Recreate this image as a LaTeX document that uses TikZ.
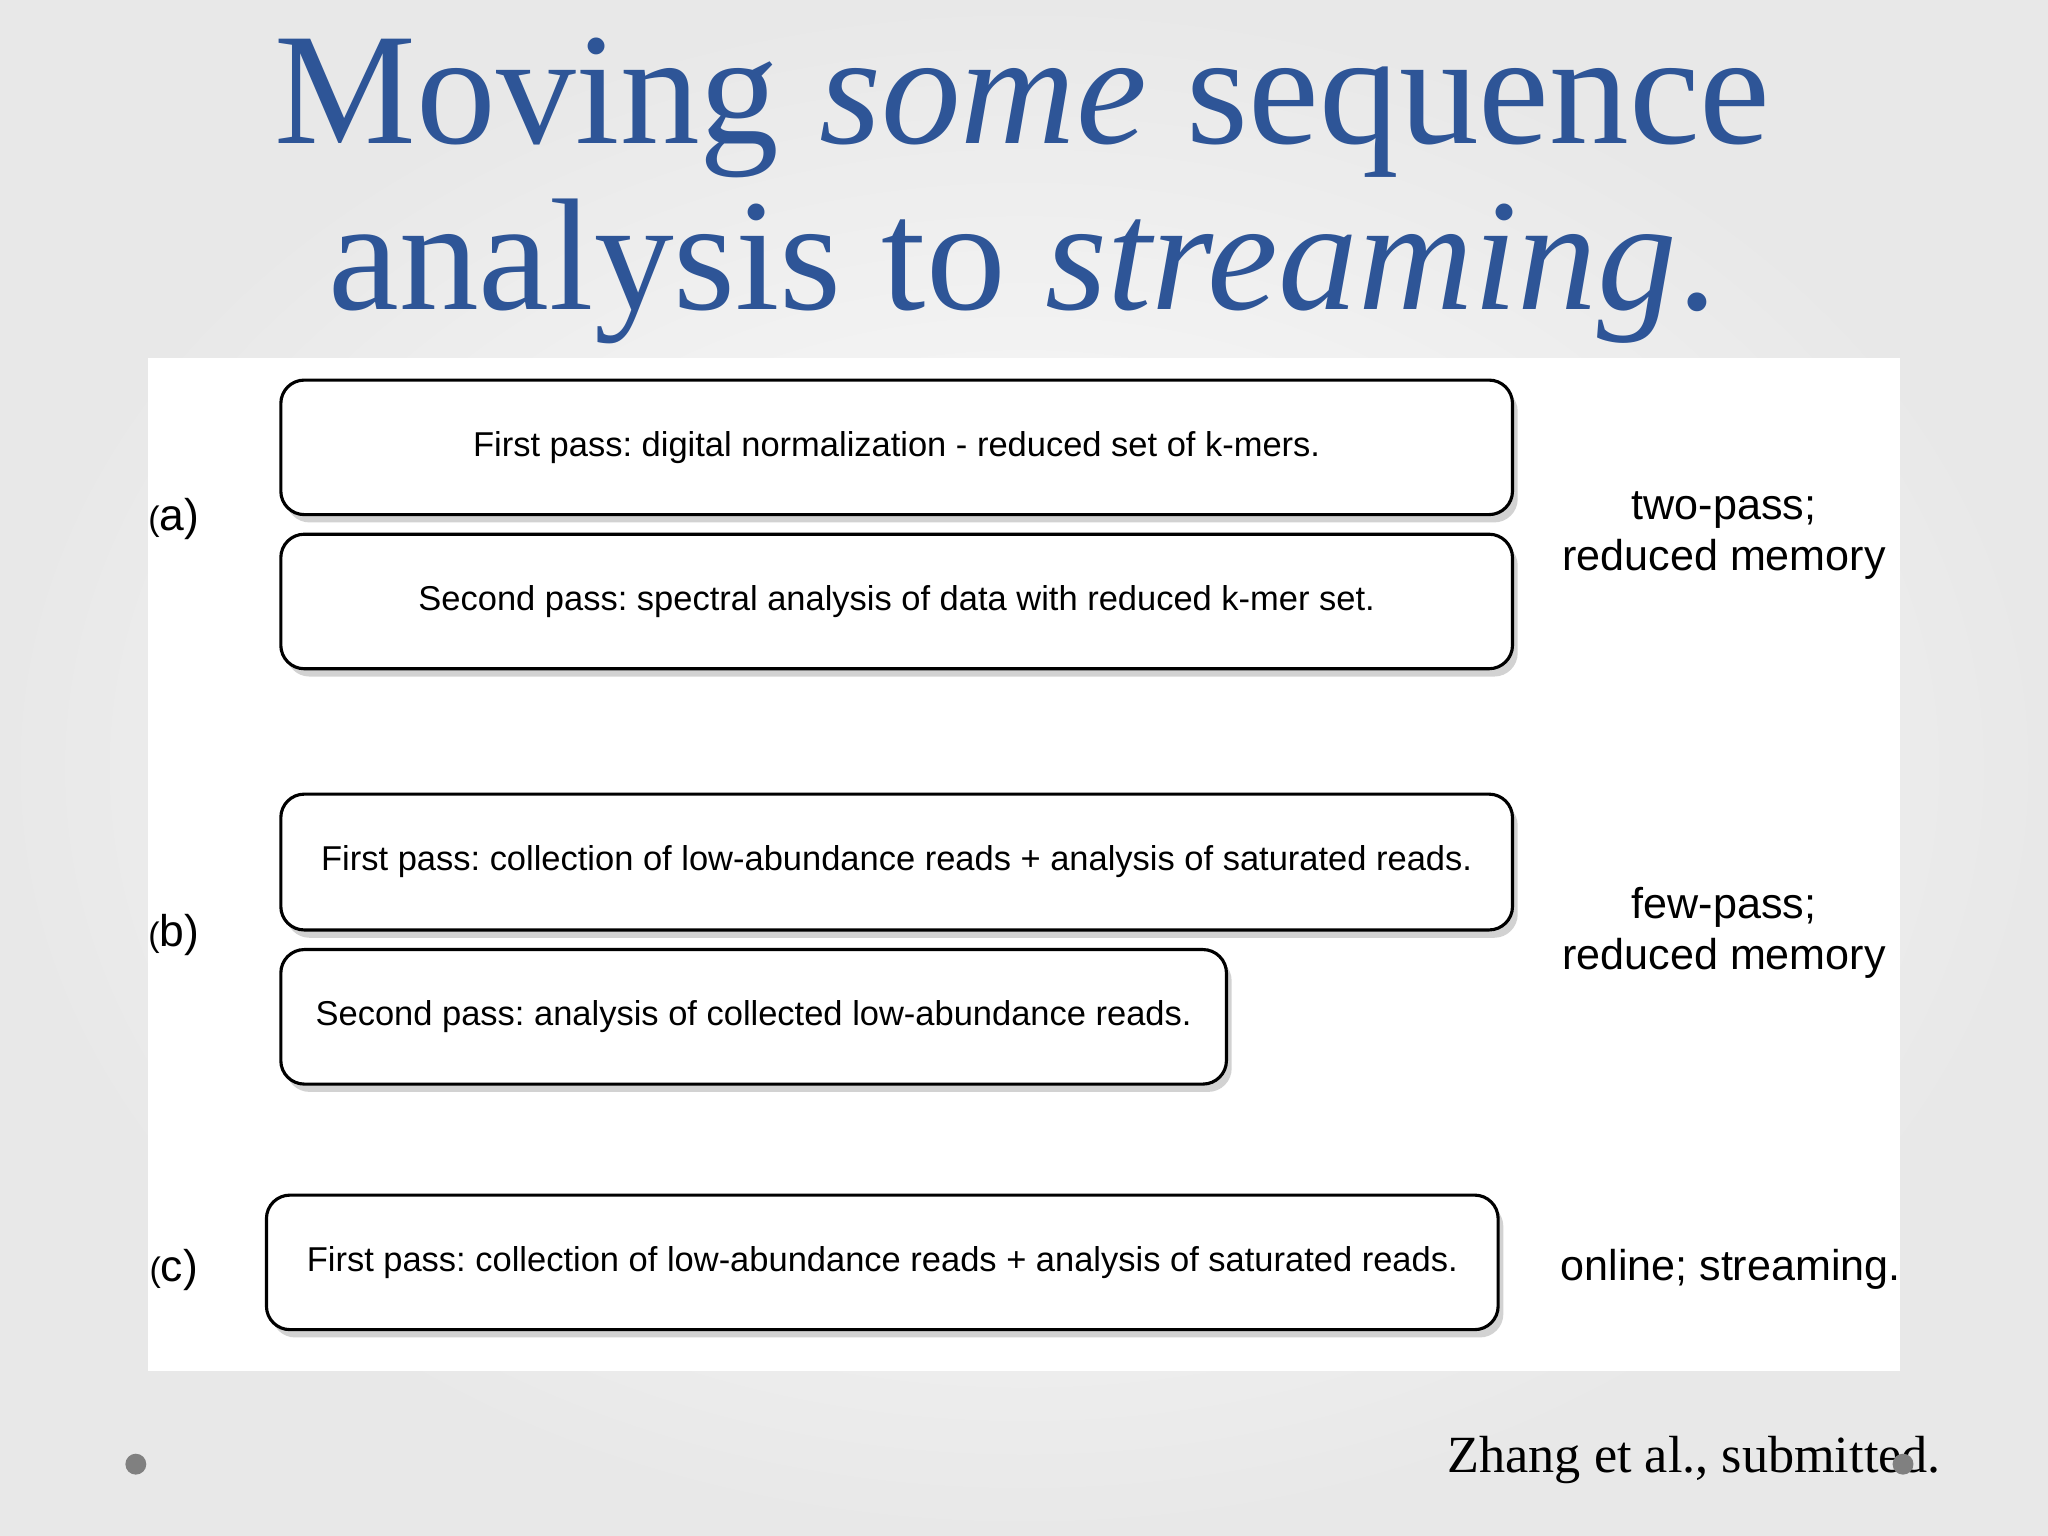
\documentclass[tikz,border=0pt]{standalone}
\usepackage{fontspec}
\setmainfont{Liberation Serif}
\setsansfont{Liberation Sans}
\usetikzlibrary{shadows}
\frenchspacing
\definecolor{titleblue}{HTML}{2E5597}
\tikzset{
  passbox/.style={draw=black,line width=1.2pt,rounded corners=9pt,fill=white,
    drop shadow={shadow xshift=2pt,shadow yshift=-3pt,opacity=0.35},
    font=\sffamily\fontsize{13.2}{15}\selectfont},
  lbl/.style={font=\sffamily\fontsize{16.5}{19.5}\selectfont,align=center},
  tag/.style={font=\sffamily\fontsize{13}{15}\selectfont}
}
\begin{document}
\begin{tikzpicture}[x=0.5pt,y=-0.5pt]
\useasboundingbox (0,0) rectangle (1568,1176);
\shade[inner color=white,outer color=black!9] (0,0) rectangle (1568,1176);
\fill[white] (113,274) rectangle (1455,1050);
\node[text=titleblue,font=\fontsize{61}{64}\selectfont,anchor=base] (t1) at (783,110) {Moving \textit{some} sequence};
\node[text=titleblue,font=\fontsize{61}{64}\selectfont,anchor=base] (t2) at (783,237) {analysis to \textit{streaming}.};
\node[passbox,minimum width=471.5pt,minimum height=51.5pt] (a1) at (686.5,342.5) {First pass: digital normalization - reduced set of k-mers.};
\node[passbox,minimum width=471.5pt,minimum height=51.5pt] (a2) at (686.5,460.5) {Second pass: spectral analysis of data with reduced k-mer set.};
\node[passbox,minimum width=471.5pt,minimum height=52pt] (b1) at (686.5,660) {First pass: collection of low-abundance reads + analysis of saturated reads.};
\node[passbox,minimum width=362pt,minimum height=51.5pt] (b2) at (577,778.5) {Second pass: analysis of collected low-abundance reads.};
\node[passbox,minimum width=471.5pt,minimum height=51.5pt] (c1) at (675.5,966.5) {First pass: collection of low-abundance reads + analysis of saturated reads.};
\node[tag] (ta) at (133,397) {(\fontsize{17}{19}\selectfont a)};
\node[tag] (tb) at (133,716) {(\fontsize{17}{19}\selectfont b)};
\node[tag] (tc) at (133,972) {(\fontsize{17}{19}\selectfont c)};
\node[lbl] (la) at (1320,410) {two-pass;\\reduced memory};
\node[lbl] (lb) at (1320,714) {few-pass;\\reduced memory};
\node[lbl] (lc) at (1325,972) {online; streaming.};
\node[font=\fontsize{20}{24}\selectfont,anchor=base east] (ref) at (1493,1127) {Zhang et al., submitted.};
\fill[gray] (104,1121) circle (4pt);
\fill[gray] (1457,1121) circle (4pt);
\end{tikzpicture}
\end{document}
